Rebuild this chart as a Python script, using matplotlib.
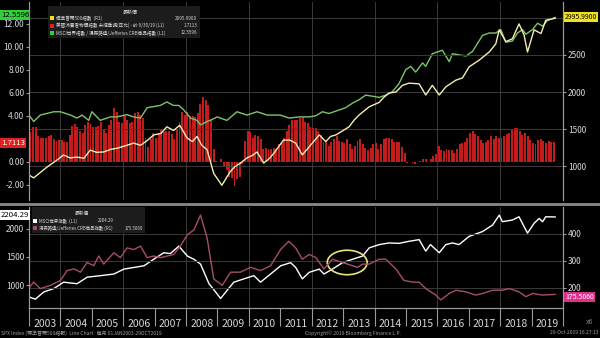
import matplotlib.pyplot as plt
from matplotlib.patches import Rectangle, Ellipse
from matplotlib.lines import Line2D

plt.rcParams['font.family'] = ['Liberation Sans Narrow', 'Noto Sans CJK TC', 'DejaVu Sans']

# ---- data ----
# US CPI YoY, monthly from Jan 2003 (red bars, left axis)
cpi_yoy = [2.6, 3.0, 3.0, 2.2, 2.1, 2.1, 2.1, 2.2, 2.3, 2.0, 1.8, 1.9,
           1.9, 1.7, 1.7, 2.3, 3.1, 3.3, 3.0, 2.7, 2.5, 3.2, 3.5, 3.3,
           3.0, 3.0, 3.1, 3.5, 2.8, 2.5, 3.2, 3.6, 4.7, 4.3, 3.5, 3.4,
           4.0, 3.6, 3.4, 3.5, 4.2, 4.3, 4.1, 3.8, 2.1, 1.3, 2.0, 2.5,
           2.1, 2.4, 2.8, 2.6, 2.7, 2.7, 2.4, 2.0, 2.8, 3.5, 4.3, 4.1,
           4.3, 4.0, 4.0, 3.9, 4.2, 5.0, 5.6, 5.4, 4.9, 3.7, 1.1, 0.1,
           0.0, 0.2, -0.4, -0.7, -1.3, -1.4, -2.1, -1.5, -1.3, -0.2, 1.8, 2.7,
           2.6, 2.1, 2.3, 2.2, 2.0, 1.1, 1.2, 1.1, 1.1, 1.2, 1.1, 1.5,
           1.6, 2.1, 2.7, 3.2, 3.6, 3.6, 3.6, 3.8, 3.9, 3.5, 3.4, 3.0,
           2.9, 2.9, 2.7, 2.3, 1.7, 1.7, 1.4, 1.7, 2.0, 2.2, 1.8, 1.7,
           1.6, 2.0, 1.5, 1.1, 1.4, 1.8, 2.0, 1.5, 1.2, 1.0, 1.2, 1.5,
           1.6, 1.1, 1.5, 2.0, 2.1, 2.1, 2.0, 1.7, 1.7, 1.7, 1.3, 0.8,
           -0.1, 0.0, -0.1, -0.2, 0.0, 0.1, 0.2, 0.2, 0.0, 0.2, 0.5, 0.7,
           1.4, 1.0, 0.9, 1.1, 1.0, 1.0, 0.8, 1.1, 1.5, 1.6, 1.7, 2.1,
           2.5, 2.7, 2.4, 2.2, 1.9, 1.6, 1.7, 1.9, 2.2, 2.0, 2.2, 2.1,
           2.1, 2.2, 2.4, 2.5, 2.8, 2.9, 2.9, 2.7, 2.3, 2.5, 2.2, 1.9,
           1.6, 1.5, 1.9, 2.0, 1.8, 1.6, 1.8, 1.7, 1.7]

# S&P 500 (yellow, right axis)
spx_t = [2003.0, 2003.15, 2003.57, 2003.89, 2004.1, 2004.3, 2004.53, 2004.75, 2004.95,
         2005.15, 2005.38, 2005.6, 2005.8, 2006.12, 2006.33, 2006.55, 2006.75, 2006.97,
         2007.2, 2007.39, 2007.6, 2007.8, 2008.03, 2008.2, 2008.35, 2008.5, 2008.67,
         2008.88, 2009.14, 2009.4, 2009.55, 2009.73, 2009.94, 2010.1, 2010.26, 2010.47,
         2010.65, 2010.79, 2011.1, 2011.3, 2011.49, 2011.7, 2011.92, 2012.24, 2012.45,
         2012.6, 2012.77, 2013.0, 2013.19, 2013.35, 2013.51, 2013.83, 2014.15, 2014.3,
         2014.46, 2014.68, 2014.89, 2015.1, 2015.42, 2015.63, 2015.84, 2016.06,
         2016.27, 2016.59, 2016.8, 2017.01, 2017.33, 2017.65, 2017.86, 2017.97,
         2018.18, 2018.39, 2018.6, 2018.76, 2018.87, 2019.08, 2019.3, 2019.45, 2019.75]
spx_v = [878, 840, 985, 1080, 1150, 1110, 1120, 1105, 1215,
         1185, 1190, 1225, 1240, 1280, 1310, 1280, 1340, 1420,
         1440, 1530, 1480, 1550, 1380, 1330, 1400, 1280, 1220,
         900, 740, 920, 990, 1040, 1110, 1140, 1190, 1040,
         1100, 1170, 1350, 1350, 1310, 1150, 1260, 1420, 1330,
         1400, 1420, 1480, 1530, 1620, 1690, 1800, 1860, 1930,
         1985, 2000, 2090, 2120, 2110, 1960, 2090, 1960,
         2070, 2160, 2190, 2340, 2430, 2540, 2650, 2840,
         2680, 2720, 2920, 2770, 2540, 2840, 2790, 2970, 2995.99]

# MSCI World / CRB ratio (green, left axis)
ratio_t = [2003.0, 2003.15, 2003.36, 2003.79, 2004.0, 2004.32, 2004.53, 2004.69, 2004.9,
           2005.0, 2005.27, 2005.59, 2005.8, 2006.12, 2006.33, 2006.55, 2006.76, 2006.97,
           2007.18, 2007.39, 2007.6, 2007.77, 2007.93, 2008.14, 2008.35, 2008.46, 2008.67,
           2008.77, 2008.99, 2009.3, 2009.62, 2009.94, 2010.26, 2010.58, 2011.0, 2011.28,
           2011.6, 2011.92, 2012.13, 2012.34, 2012.55, 2012.87, 2013.08, 2013.3, 2013.51,
           2013.72, 2013.93, 2014.15, 2014.36, 2014.57, 2014.78, 2014.99, 2015.15, 2015.31,
           2015.53, 2015.63, 2015.84, 2016.16, 2016.38, 2016.48, 2016.69, 2016.91, 2017.12,
           2017.44, 2017.65, 2017.86, 2018.02, 2018.18, 2018.39, 2018.55, 2018.71, 2018.82,
           2019.03, 2019.19, 2019.35, 2019.51, 2019.75]
ratio_v = [4.06, 3.5, 4.06, 4.35, 4.35, 4.06, 3.8, 4.06, 3.6,
           4.35, 3.6, 3.9, 3.9, 4.1, 3.9, 3.8, 4.7, 4.8,
           4.9, 5.2, 4.9, 4.9, 4.5, 3.8, 3.6, 3.2, 3.5,
           3.6, 3.9, 3.6, 4.35, 4.06, 4.35, 4.06, 4.06, 3.8,
           3.9, 3.9, 4.0, 4.35, 4.2, 4.5, 4.7, 5.1, 5.4,
           5.8, 5.7, 5.6, 5.8, 6.1, 6.8, 8.0, 8.3, 7.8,
           8.6, 8.3, 9.4, 9.7, 8.7, 9.4, 9.3, 9.2, 9.6,
           11.0, 11.2, 11.2, 11.5, 10.4, 10.5, 11.2, 11.5, 11.1,
           11.5, 12.05, 11.8, 12.3, 12.56]

# MSCI World index (white, bottom left axis)
msci_t = [2003.0, 2003.2, 2003.47, 2003.79, 2004.1, 2004.53, 2004.85, 2005.28, 2005.7,
          2006.02, 2006.34, 2006.66, 2006.97, 2007.29, 2007.5, 2007.77, 2008.04, 2008.25,
          2008.46, 2008.73, 2008.94, 2009.1, 2009.31, 2009.52, 2009.84, 2010.16, 2010.37,
          2010.69, 2011.01, 2011.33, 2011.49, 2011.7, 2011.92, 2012.24, 2012.39, 2012.66,
          2012.98, 2013.3, 2013.62, 2013.83, 2014.15, 2014.46, 2014.78, 2015.1, 2015.42,
          2015.63, 2015.78, 2016.06, 2016.27, 2016.48, 2016.69, 2017.01, 2017.44, 2017.76,
          2017.97, 2018.07, 2018.39, 2018.6, 2018.76, 2018.87, 2019.08, 2019.24, 2019.35,
          2019.45, 2019.75]
msci_v = [798, 757, 885, 945, 1057, 1030, 1145, 1172, 1200,
          1287, 1316, 1345, 1460, 1575, 1560, 1690, 1517, 1460,
          1375, 1030, 885, 770, 915, 1057, 1115, 1172, 1057,
          1200, 1345, 1400, 1316, 1115, 1230, 1287, 1200, 1287,
          1400, 1460, 1517, 1660, 1718, 1747, 1740, 1776, 1805,
          1603, 1718, 1575, 1718, 1747, 1718, 1862, 1948, 2063,
          2236, 2121, 2150, 2207, 2035, 1920, 2092, 2178, 2120,
          2207, 2204.29]

# Thomson Reuters/Jefferies CRB index (pink, bottom right axis)
crb_t = [2003.0, 2003.15, 2003.36, 2003.68, 2004.0, 2004.21, 2004.43, 2004.64, 2004.85,
         2005.06, 2005.22, 2005.38, 2005.7, 2005.91, 2006.12, 2006.34, 2006.55, 2006.76,
         2006.97, 2007.19, 2007.4, 2007.61, 2007.82, 2008.04, 2008.25, 2008.46, 2008.67,
         2008.88, 2009.15, 2009.42, 2009.73, 2010.05, 2010.37, 2010.69, 2011.01, 2011.27,
         2011.49, 2011.7, 2011.92, 2012.13, 2012.39, 2012.66, 2012.98, 2013.3, 2013.46,
         2013.62, 2013.83, 2014.15, 2014.36, 2014.68, 2014.94, 2015.21, 2015.42, 2015.63,
         2015.95, 2016.11, 2016.38, 2016.59, 2016.91, 2017.22, 2017.44, 2017.76, 2018.07,
         2018.29, 2018.6, 2018.82, 2019.03, 2019.35, 2019.75]
crb_v = [200, 221, 197, 209, 227, 264, 270, 258, 294,
         282, 318, 288, 330, 312, 348, 342, 355, 312,
         318, 312, 318, 324, 355, 397, 415, 470, 385,
         233, 209, 258, 258, 276, 264, 282, 342, 373,
         348, 306, 324, 312, 270, 306, 294, 282, 276,
         288, 288, 306, 306, 270, 227, 221, 221, 197,
         173, 155, 179, 191, 185, 173, 179, 191, 191,
         197, 185, 167, 179, 173, 175.506]

years = list(range(2003, 2020))
left_top_ticks = [-2, 0, 4, 6, 8, 10, 12]      # 2.00 sits under the 1.7113 tag
right_top_ticks = [1000, 1500, 2000, 2500]

# ---- layout helpers (pixel -> figure fraction) ----
W, H = 600, 338
def fx(x):
    return x / W
def fy(y):
    return 1 - y / H

BG = 'black'
GRID = '#3a3a3a'
AX = '#9a9a9a'
TXT = '#d8d8d8'

fig = plt.figure(figsize=(6, 3.38), dpi=100, facecolor=BG)
ax1 = fig.add_axes([fx(29), fy(200), fx(563) - fx(29), (200 - 2) / H], facecolor=BG)
ax2 = fig.add_axes([fx(29), fy(308), fx(563) - fx(29), (308 - 207) / H], facecolor=BG)
ax1r = ax1.twinx()
ax2r = ax2.twinx()

# ---- top panel ----
bar_x = [2003 + (i + 0.5) / 12 for i in range(len(cpi_yoy))]
ax1.bar(bar_x, cpi_yoy, width=0.062, color='#c41c1c', linewidth=0, zorder=2)
ax1.plot(ratio_t, ratio_v, color='#7cc46a', lw=1.0, zorder=3)
ax1r.plot(spx_t, spx_v, color='#f3eeae', lw=1.0)

ax1.set_xlim(2003, 2020)
ax1.set_ylim(-3.33, 13.9)
ax1r.set_ylim(541, 3216)
ax1.set_yticks(left_top_ticks)
ax1.set_yticklabels(['%.2f' % v for v in left_top_ticks])
ax1r.set_yticks(right_top_ticks)
ax1.set_xticks([])

# ---- bottom panel ----
ax2.plot(msci_t, msci_v, color='white', lw=1.0, zorder=3)
ax2r.plot(crb_t, crb_v, color='#a84c6c', lw=1.0)
ax2r.add_patch(Ellipse((2013.13, 294), 1.27, 91, fill=False, ec='#ece57a', lw=1.2))

ax2.set_xlim(2003, 2020)
ax2.set_ylim(603, 2379)
ax2r.set_ylim(125, 500)
ax2.set_yticks([1000, 1500, 2000])
ax2r.set_yticks([200, 300, 400])
ax2.set_xticks(range(2003, 2021))
ax2.set_xticklabels([])
ax2.set_xticks([y + 0.5 for y in years], minor=True)
ax2.set_xticklabels([str(y) for y in years], minor=True)
ax2.tick_params(axis='x', which='major', length=13, width=0.8, color=AX, direction='out')
ax2.tick_params(axis='x', which='minor', length=0, pad=8, labelsize=7.5, labelcolor=TXT)

# grid, spines, ticks
for a in (ax1, ax2):
    for yr in range(2004, 2020, 2):
        a.axvline(yr, color=GRID, lw=0.7, zorder=0)
ax1r.set_yticks([1000, 1500, 2000, 2500, 3000], minor=True)
ax1r.grid(axis='y', which='both', color=GRID, lw=0.7)
ax1r.tick_params(axis='y', which='minor', length=0)
ax2r.grid(axis='y', color=GRID, lw=0.7)
for a in (ax1r, ax2r):
    a.set_axisbelow(True)
for a in (ax1, ax2, ax1r, ax2r):
    a.tick_params(axis='y', length=2, width=0.8, color=AX, labelcolor=TXT, labelsize=6, pad=1.5)
    for s in a.spines.values():
        s.set_color(AX)
        s.set_linewidth(0.8)
for a in (ax1, ax1r):
    a.spines['top'].set_visible(False)
    a.spines['bottom'].set_visible(False)
for a in (ax2, ax2r):
    a.spines['top'].set_visible(False)

# separator between panels
fig.add_artist(Line2D([0, 1], [fy(204), fy(204)], transform=fig.transFigure,
                      color='#8a8a8a', lw=2))

# ---- value tags ----
def tag(x, y, s, fc, tc, ha='left', fs=5.6):
    fig.text(fx(x), fy(y), s, ha=ha, va='center', fontsize=fs, color=tc,
             bbox=dict(boxstyle='square,pad=0.12', fc=fc, ec='none'))

tag(1, 15, '12.5596', '#2fcf3a', 'black')
tag(1, 143, '1.7113', '#e0201e', 'white')
tag(1, 215, '2204.29', 'white', 'black')
tag(565, 17, '2995.9900', '#efe21a', 'black', fs=5.0)
tag(565, 297, '175.5060', '#e0308c', 'white', fs=5.0)

# ---- legends ----
def legend_box(x0, y0, x1, y1):
    fig.add_artist(Rectangle((fx(x0), fy(y1)), fx(x1) - fx(x0), (y1 - y0) / H,
                             transform=fig.transFigure, fc='#1c1c1c', ec='none'))

def legend_row(x, y, color, label, vx, value, fs=3.3):
    fig.add_artist(Rectangle((fx(x), fy(y + 2)), 4 / W, 4 / H,
                             transform=fig.transFigure, fc=color, ec='none'))
    fig.text(fx(x + 6), fy(y), label, fontsize=fs, color=TXT, va='center')
    fig.text(fx(vx), fy(y), value, fontsize=fs, color=TXT, va='center', ha='right')

legend_box(48, 6, 200, 38)
fig.text(fx(130), fy(12), '最新價', fontsize=3.6, color=TXT, ha='center', va='center')
legend_row(50, 18, '#efe21a', '標準普爾500指數  (R1)', 197, '2995.9900')
legend_row(50, 25.5, '#e0201e', '美國消費者物價指數 未經季調(年比) - 於 9/30/19 (L1)', 197, '1.7113')
legend_row(50, 33, '#2fcf3a', 'MSCI世界指數 / 湯森路透/Jefferies CRB商品指數 (L1)', 197, '12.5596')

legend_box(32, 207, 145, 233)
fig.text(fx(82), fy(213), '最新價', fontsize=3.4, color=TXT, ha='center', va='center')
legend_row(33, 221, 'white', 'MSCI世界指數  (L1)', 114, '2204.29', fs=3.2)
legend_row(33, 228, '#a84c6c', '湯森路透/Jefferies CRB商品指數 (R1)', 143, '175.5060', fs=3.2)

# ---- footer ----
fig.text(fx(1), fy(333), 'SPX Index (標準普爾500指數)  Line Chart   每月 01JAN2003-29OCT2019',
         fontsize=3.6, color='#a0a0a0', va='center')
fig.text(fx(305), fy(333), 'Copyright© 2019 Bloomberg Finance L.P.',
         fontsize=3.6, color='#a0a0a0', va='center')
fig.text(fx(598), fy(333), '29-Oct-2019 16:27:13', fontsize=3.6, color='#a0a0a0',
         va='center', ha='right')
fig.text(fx(590), fy(322), 'x6', fontsize=5, color='#8080a0', va='center', ha='center')

fig.savefig('out.png', dpi=100, facecolor=BG)
